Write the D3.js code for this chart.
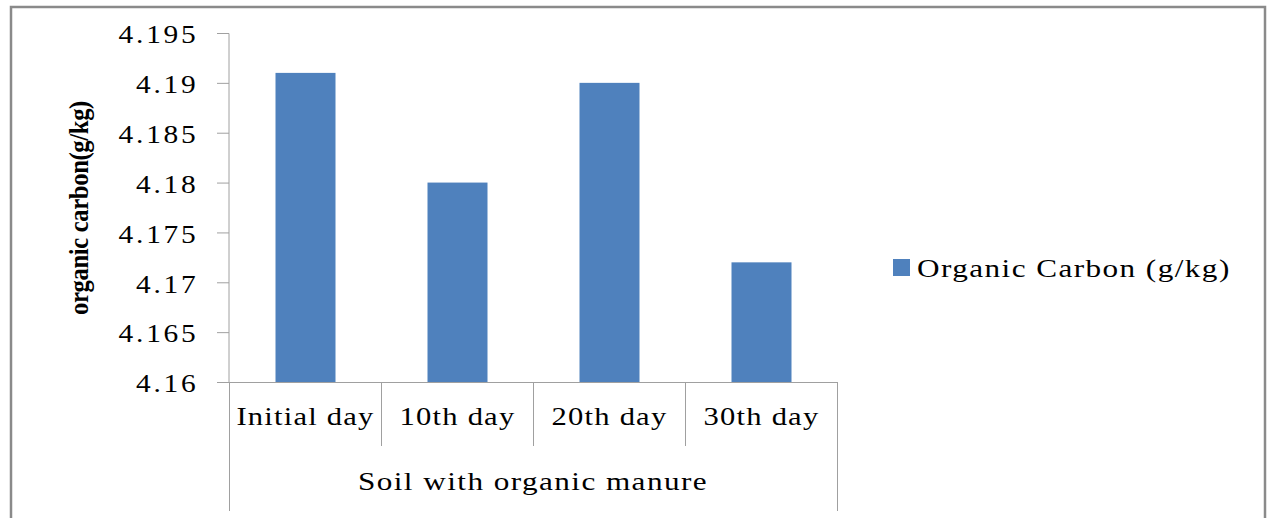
<!DOCTYPE html>
<html>
<head>
<meta charset="utf-8">
<script src="https://cdn.jsdelivr.net/npm/d3@7"></script>
<style>
  html, body { margin: 0; padding: 0; background: #fff; }
  svg text { font-family: "Liberation Serif", "Times New Roman", serif; fill: #000; }
</style>
</head>
<body>
<svg id="chart" width="1267" height="518"></svg>
<script>
// Organic carbon in soil with organic manure, by sampling day
const categories = ["Initial day", "10th day", "20th day", "30th day"];
const organicCarbon = [4.191, 4.180, 4.190, 4.172];
const yTicks = [4.16, 4.165, 4.17, 4.175, 4.18, 4.185, 4.19, 4.195];
const seriesName = "Organic Carbon (g/kg)";
const groupLabel = "Soil with organic manure";
const yTitle = "organic carbon(g/kg)";

const svg = d3.select("#chart");
const axisColor = "#a0a0a0";
const barColor = "#4f81bd";
const stretch = 1.2;   // wide-set serif lettering

// outer chart frame
svg.append("path")
  .attr("d", "M11,520 V7 H1265 V520")
  .attr("fill", "none")
  .attr("stroke", "#8a8a8a")
  .attr("stroke-width", 2.5);

const plot = { left: 229, right: 837, top: 33, bottom: 382 };

const x = d3.scaleBand()
  .domain(categories)
  .range([plot.left, plot.right])
  .paddingInner(0)
  .paddingOuter(0);

const y = d3.scaleLinear()
  .domain([4.16, 4.195])
  .range([plot.bottom, plot.top]);

// horizontally stretched text placed at (px, py)
function wideText(g, px, py, str, size, spacing, anchor) {
  return g.append("text")
    .attr("transform", `translate(${px},${py}) scale(${stretch},1)`)
    .attr("text-anchor", anchor || "start")
    .style("font-size", size + "px")
    .style("letter-spacing", spacing + "px")
    .text(str);
}

// bars
const barW = 60;
svg.append("g").selectAll("rect")
  .data(categories.map((c, i) => ({ c, v: organicCarbon[i] })))
  .join("rect")
  .attr("x", d => x(d.c) + x.bandwidth() / 2 - barW / 2 + 0.5)
  .attr("y", d => y(d.v))
  .attr("width", barW)
  .attr("height", d => y(4.16) - y(d.v))
  .attr("fill", barColor);

// y axis
const labelOffset = 33;
const yAxis = svg.append("g")
  .attr("transform", `translate(${plot.left},0)`)
  .call(d3.axisLeft(y).tickValues(yTicks).tickSize(12).tickPadding(labelOffset - 12)
    .tickFormat(d => String(+d.toFixed(3))));
yAxis.select(".domain").attr("stroke", axisColor).attr("d", `M-12,${plot.top}.5H0V${plot.bottom}`);
yAxis.selectAll(".tick line").attr("stroke", axisColor);
yAxis.selectAll(".tick text")
  .attr("x", -(labelOffset - 2.5) / stretch)
  .attr("transform", `scale(${stretch},1)`)
  .attr("dy", "0.4em")
  .attr("fill", "#000")
  .style("font-family", "'Liberation Serif', serif")
  .style("font-size", "24.5px")
  .style("letter-spacing", "2.3px");

// category axis with divider lines
const xg = svg.append("g");
xg.append("line")
  .attr("x1", plot.left).attr("x2", plot.right)
  .attr("y1", plot.bottom + 0.5).attr("y2", plot.bottom + 0.5)
  .attr("stroke", axisColor);
const edges = categories.map(c => x(c)).concat([x.range()[1]]);
xg.selectAll("line.div")
  .data(edges)
  .join("line")
  .attr("class", "div")
  .attr("x1", d => d + 0.5).attr("x2", d => d + 0.5)
  .attr("y1", plot.bottom)
  .attr("y2", (d, i) => (i === 0 || i === edges.length - 1) ? 511 : 446)
  .attr("stroke", axisColor);

categories.forEach(c => {
  wideText(xg, x(c) + x.bandwidth() / 2 + 0.5, 425, c, 25.5, 1, "middle");
});
wideText(xg, (plot.left + plot.right) / 2, 490, groupLabel, 26, 1.2, "middle");

// y title: bold, condensed along its length
svg.append("text")
  .attr("transform", `translate(88,208) rotate(-90) scale(0.88,1)`)
  .attr("text-anchor", "middle")
  .style("font-size", "28px")
  .style("font-weight", "bold")
  .style("letter-spacing", "-0.4px")
  .text(yTitle);

// legend
const lg = svg.append("g").attr("transform", "translate(893,259)");
lg.append("rect").attr("width", 17).attr("height", 17).attr("fill", barColor);
wideText(lg, 24, 18, seriesName, 26, 1.2, "start");
</script>
</body>
</html>
